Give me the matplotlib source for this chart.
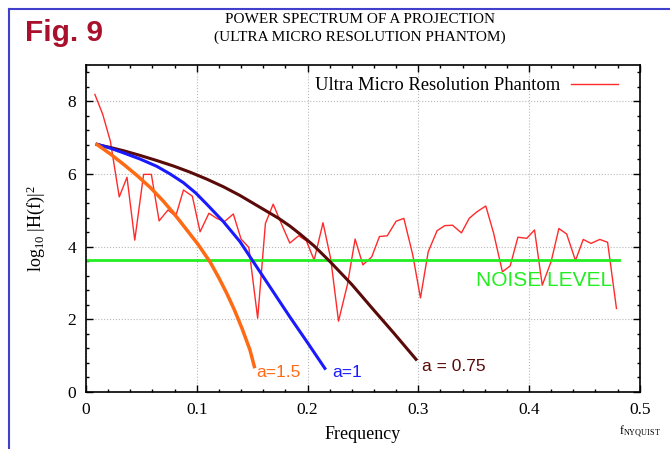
import numpy as np
import matplotlib
matplotlib.use("Agg")
import matplotlib.pyplot as plt
from matplotlib.lines import Line2D
from matplotlib.ticker import MultipleLocator

plt.rcParams['font.family'] = ['Liberation Serif', 'DejaVu Serif']
plt.rcParams['mathtext.fontset'] = 'custom'
plt.rcParams['mathtext.rm'] = 'Liberation Serif'
plt.rcParams['mathtext.it'] = 'Liberation Serif:italic'

# measured power spectrum (frequency, log10 |H(f)|^2)
freq = [0.008, 0.015, 0.022, 0.030, 0.037, 0.044, 0.052, 0.059, 0.066, 0.074,
        0.081, 0.088, 0.096, 0.103, 0.111, 0.118, 0.125, 0.133, 0.140, 0.147,
        0.155, 0.162, 0.169, 0.177, 0.184, 0.192, 0.199, 0.206, 0.214, 0.221,
        0.228, 0.236, 0.243, 0.250, 0.258, 0.265, 0.272, 0.280, 0.287, 0.295,
        0.302, 0.309, 0.317, 0.324, 0.331, 0.339, 0.346, 0.353, 0.361, 0.368,
        0.376, 0.383, 0.390, 0.398, 0.405, 0.412, 0.420, 0.427, 0.434, 0.442,
        0.449, 0.456, 0.464, 0.471, 0.479]
power = [8.19, 7.65, 6.90, 5.37, 5.91, 4.18, 5.99, 5.99, 4.71, 5.01,
         4.84, 5.56, 5.39, 4.41, 4.92, 4.78, 4.69, 4.90, 4.21, 3.98,
         2.03, 4.64, 5.17, 4.59, 4.10, 4.30, 4.16, 3.63, 4.66, 3.66,
         1.95, 2.95, 4.21, 3.50, 3.72, 4.28, 4.30, 4.70, 4.78, 3.78,
         2.59, 3.86, 4.44, 4.58, 4.59, 4.38, 4.78, 4.96, 5.12, 4.38,
         3.31, 3.47, 4.26, 4.23, 4.46, 2.94, 3.59, 4.50, 4.35, 3.62,
         4.20, 4.09, 4.20, 4.12, 2.30]

# model curves
f_a15 = [0.010, 0.022, 0.035, 0.046, 0.058, 0.069, 0.080, 0.091, 0.101,
         0.112, 0.120, 0.127, 0.134, 0.141, 0.148, 0.152]
p_a15 = [6.81, 6.55, 6.24, 5.96, 5.63, 5.28, 4.89, 4.46, 4.07,
         3.58, 3.14, 2.72, 2.26, 1.74, 1.16, 0.70]
f_a10 = [0.010, 0.022, 0.034, 0.049, 0.064, 0.076, 0.088, 0.099, 0.109,
         0.124, 0.139, 0.154, 0.169, 0.184, 0.200, 0.2157]
p_a10 = [6.82, 6.71, 6.58, 6.41, 6.21, 6.00, 5.76, 5.48, 5.17,
         4.69, 4.14, 3.45, 2.76, 2.07, 1.36, 0.65]
f_a075 = [0.010, 0.022, 0.034, 0.049, 0.064, 0.079, 0.094, 0.109, 0.124,
          0.139, 0.154, 0.164, 0.174, 0.184, 0.194, 0.206, 0.220, 0.240,
          0.258, 0.278, 0.298]
p_a075 = [6.81, 6.73, 6.64, 6.51, 6.37, 6.22, 6.05, 5.86, 5.65,
          5.41, 5.14, 4.96, 4.78, 4.57, 4.33, 4.02, 3.60, 2.96,
          2.32, 1.62, 0.90]

noise_f = [0.0, 0.481]
noise_level = 3.62

fig = plt.figure(figsize=(6.7, 4.49), dpi=100)
ax = fig.add_axes([0.1284, 0.1269, 0.8264, 0.7283])

ax.plot(freq, power, color='#ff2a2a', lw=1.0, label='Ultra Micro Resolution Phantom')
ax.plot(noise_f, [noise_level, noise_level], color='#22ee22', lw=2.0)
ax.plot(f_a075, p_a075, color='#5a0a08', lw=2.2, solid_joinstyle='round')
ax.plot(f_a10, p_a10, color='#1a1aff', lw=2.2, solid_joinstyle='round')
ax.plot(f_a15, p_a15, color='#ff6a14', lw=2.5, solid_joinstyle='round')

ax.text(0.154, 0.55, 'a=1.5', color='#ff6a14', fontsize=12.5, family='Liberation Sans', va='center')
ax.text(0.222, 0.55, 'a=1', color='#1a1aff', fontsize=12.5, family='Liberation Sans', va='center')
ax.text(0.303, 0.70, 'a = 0.75', color='#5a0a08', fontsize=12.5, family='Liberation Sans', va='center')
ax.text(0.352, 3.08, 'NOISE LEVEL', color='#22ee22', fontsize=15, family='Liberation Sans', va='center')

ax.set_xlim(0, 0.5)
ax.set_ylim(0, 9)
ax.xaxis.set_major_locator(MultipleLocator(0.1))
ax.xaxis.set_minor_locator(MultipleLocator(0.02))
ax.yaxis.set_major_locator(MultipleLocator(2))
ax.yaxis.set_minor_locator(MultipleLocator(0.4))
ax.set_xticks([0, 0.1, 0.2, 0.3, 0.4, 0.5], ['0', '0.1', '0.2', '0.3', '0.4', '0.5'])
ax.tick_params(which='both', direction='in', top=True, right=True, labelsize=12.5, pad=7)
ax.tick_params(which='major', length=5, width=1)
ax.tick_params(which='minor', length=2.5, width=1)
for s in ax.spines.values():
    s.set_linewidth(1.2)
ax.grid(True, which='major', linestyle=':', color='#b8b8b8', lw=0.8)

ax.set_xlabel('Frequency', fontsize=13, labelpad=6)
ax.set_ylabel('log$_{10}$ |H(f)|$^2$', fontsize=13, labelpad=15)
ax.text(0.962, -0.122, 'f$_{\\mathrm{NYQUIST}}$', transform=ax.transAxes, fontsize=8.5,
        ha='left', va='center')

ax.legend(loc='upper right', frameon=False, markerfirst=False, fontsize=13.4,
          handlelength=2.5, handletextpad=0.6, borderaxespad=0.25,
          bbox_to_anchor=(0.982, 1.0))

fig.text(0.537, 0.957, 'POWER SPECTRUM OF A PROJECTION', ha='center', va='center', fontsize=11)
fig.text(0.537, 0.917, '(ULTRA MICRO RESOLUTION PHANTOM)', ha='center', va='center', fontsize=11)
fig.text(0.037, 0.927, 'Fig. 9', color='#a8102c', fontsize=21.5, fontweight='bold',
         family='Liberation Sans', ha='left', va='center')

# slide frame lines
fig.add_artist(Line2D([0.0134, 1.0], [0.98, 0.98], transform=fig.transFigure, color='#4040cc', lw=1.5))
fig.add_artist(Line2D([0.0134, 0.0134], [0.0, 0.98], transform=fig.transFigure, color='#4040cc', lw=1.5))

fig.savefig('out.png', dpi=100)
